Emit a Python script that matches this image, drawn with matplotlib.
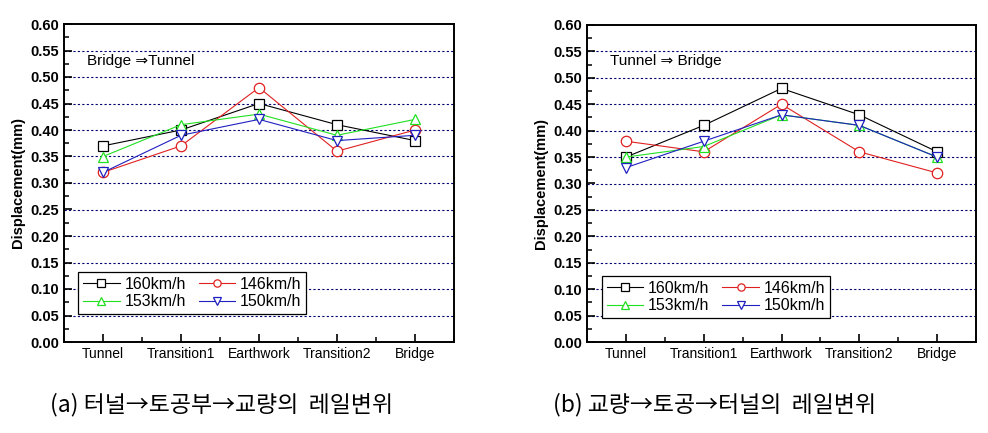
import numpy as np
import matplotlib
matplotlib.use('agg')
import matplotlib.pyplot as plt
from matplotlib.ticker import MultipleLocator

plt.rcParams['font.family'] = ['Liberation Sans', 'DejaVu Sans']

sections = ['Tunnel', 'Transition1', 'Earthwork', 'Transition2', 'Bridge']
speeds = ['160km/h', '146km/h', '153km/h', '150km/h']

# (a) Bridge => Tunnel
disp_a_160 = [0.37, 0.40, 0.45, 0.41, 0.38]
disp_a_146 = [0.32, 0.37, 0.48, 0.36, 0.40]
disp_a_153 = [0.35, 0.41, 0.43, 0.39, 0.42]
disp_a_150 = [0.32, 0.39, 0.42, 0.38, 0.39]

# (b) Tunnel => Bridge
disp_b_160 = [0.35, 0.41, 0.48, 0.43, 0.36]
disp_b_146 = [0.38, 0.36, 0.45, 0.36, 0.32]
disp_b_153 = [0.35, 0.37, 0.43, 0.41, 0.35]
disp_b_150 = [0.33, 0.38, 0.43, 0.41, 0.35]

captions = ['(a) 터널→토공부→교량의  레일변위', '(b) 교량→토공→터널의  레일변위']
notes = ['Bridge \u21d2Tunnel', 'Tunnel \u21d2 Bridge']

colors = ['black', '#e02020', '#20e020', '#2020c0']
markers = ['s', 'o', '^', 'v']

W, H = 988, 433
fig = plt.figure(figsize=(W / 100, H / 100), dpi=100)


def px_axes(l, t, r, b):
    return fig.add_axes([l / W, 1 - b / H, (r - l) / W, (b - t) / H])


def draw(ax, series, note, legloc):
    x = np.arange(len(sections))
    lines = []
    for ys, c, m, lab in zip(series, colors, markers, speeds):
        ln, = ax.plot(x, ys, color=c, lw=0.8, marker=m, ms=7.5, mfc='white', mec=c,
                      mew=0.9, label=lab)
        lines.append(ln)
    ax.set_xlim(-0.5, 4.5)
    ax.set_ylim(0, 0.6)
    ax.set_xticks(x)
    ax.set_xticklabels(sections, fontsize=10)
    ax.xaxis.set_minor_locator(MultipleLocator(0.5))
    ax.yaxis.set_major_locator(MultipleLocator(0.05))
    ax.yaxis.set_minor_locator(MultipleLocator(0.025))
    ax.set_yticklabels(['%.2f' % v for v in ax.get_yticks()], fontsize=10.5, fontweight='bold')
    ax.tick_params(which='major', direction='in', length=6, width=1.2, top=False, right=False)
    ax.tick_params(which='minor', direction='in', length=3.5, width=1.1, top=False, right=False)
    for v in np.arange(0.05, 0.56, 0.05):
        ax.axhline(v, color='#000070', lw=0.8, ls=(0, (2, 2)), zorder=0)
    for s in ax.spines.values():
        s.set_linewidth(1.4)
    ax.set_ylabel('Displacement(mm)', fontsize=10.5, fontweight='bold', labelpad=4)
    ax.text(0.06, 0.885, note, transform=ax.transAxes, fontsize=11, va='center')
    # row-wise legend: 160 146 / 153 150
    order = [0, 2, 1, 3]
    leg = ax.legend([lines[i] for i in order], [speeds[i] for i in order],
                    ncol=2, loc='lower left', bbox_to_anchor=legloc, fontsize=11.5,
                    frameon=True, fancybox=False, edgecolor='black', framealpha=1,
                    handlelength=2.3, columnspacing=0.8, borderpad=0.3,
                    labelspacing=0.15, handletextpad=0.3, markerscale=0.7,
                    borderaxespad=0)
    leg.get_frame().set_linewidth(0.9)


ax1 = px_axes(64, 24, 454, 342)
draw(ax1, [disp_a_160, disp_a_146, disp_a_153, disp_a_150], notes[0], (0.036, 0.088))

ax2 = px_axes(587, 25, 976, 342)
draw(ax2, [disp_b_160, disp_b_146, disp_b_153, disp_b_150], notes[1], (0.038, 0.076))

fig.text(50 / W, 1 - 405 / H, captions[0], fontsize=16.5, va='center', ha='left',
         family=['Noto Sans CJK KR', 'DejaVu Sans'])
fig.text(553 / W, 1 - 405 / H, captions[1], fontsize=16.5, va='center', ha='left',
         family=['Noto Sans CJK KR', 'DejaVu Sans'])

fig.savefig('out.png', dpi=100)
